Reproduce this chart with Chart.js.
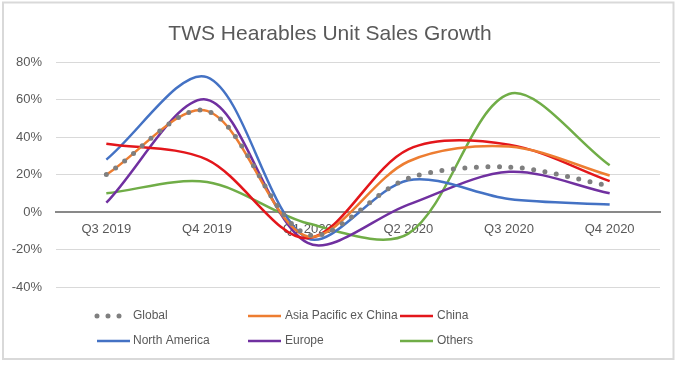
<!DOCTYPE html>
<html>
<head>
<meta charset="utf-8">
<script src="https://cdn.jsdelivr.net/npm/chart.js@4/dist/chart.umd.min.js"></script>
<style>
  html, body { margin: 0; padding: 0; background: #fff; }
  #wrap { width: 680px; height: 365px; position: relative; }
</style>
</head>
<body>
<div id="wrap"><canvas id="c" width="680" height="365"></canvas></div>
<script>
const categories = ['Q3 2019', 'Q4 2019', 'Q1 2020', 'Q2 2020', 'Q3 2020', 'Q4 2020'];
const seriesNames = ['Global', 'Asia Pacific ex China', 'China', 'North America', 'Europe', 'Others'];
const globalVals   = [20, 54, -12, 18, 24, 14];
const apacVals     = [20, 54, -13, 27, 35, 19.5];
const chinaVals    = [36.5, 28, -14, 33.5, 36, 16.5];
const naVals       = [28, 72, -14, 17, 7, 4];
const europeVals   = [5, 60, -16.5, 4, 21.5, 10];
const othersVals   = [10, 16, -6, -11.5, 63, 25];
const yTicks = [-40, -20, 0, 20, 40, 60, 80];

const colors = ['#7F7F7F', '#ED7D31', '#E3161B', '#4472C4', '#7030A0', '#70AD47'];
const values = [globalVals, apacVals, chinaVals, naVals, europeVals, othersVals];

const FONT = '"Liberation Sans", Arial, sans-serif';
const TXT = '#595959';

const datasets = values.map((v, i) => {
  const d = {
    label: seriesNames[i],
    data: v,
    borderColor: colors[i],
    backgroundColor: colors[i],
    borderWidth: 2.5,
    pointRadius: 0,
    pointHoverRadius: 0,
    tension: 0.32,
    fill: false
  };
  if (i === 0) {
    d.borderWidth = 5;
    d.borderDash = [0, 11.5];
    d.borderCapStyle = 'round';
  }
  return d;
});

const frame = {
  id: 'frame',
  beforeDraw(chart) {
    const ctx = chart.ctx;
    ctx.save();
    ctx.fillStyle = '#fff';
    ctx.fillRect(0, 0, chart.width, chart.height);
    ctx.strokeStyle = '#D9D9D9';
    ctx.lineWidth = 2;
    ctx.strokeRect(3, 2.5, 670.5, 356.5);
    ctx.restore();
  }
};

const customLegend = {
  id: 'customLegend',
  afterDraw(chart) {
    const ctx = chart.ctx;
    const symX = [97, 248, 400];
    const txtX = [133, 285, 437];
    const rowY = [316, 341];
    ctx.save();
    ctx.font = '12px ' + FONT;
    ctx.textBaseline = 'middle';
    ctx.textAlign = 'left';
    chart.data.datasets.forEach((ds, i) => {
      const col = i % 3, row = Math.floor(i / 3);
      const y = rowY[row];
      ctx.strokeStyle = ds.borderColor;
      if (i === 0) {
        ctx.lineWidth = 5;
        ctx.lineCap = 'round';
        ctx.setLineDash([0, 11]);
        ctx.beginPath();
        ctx.moveTo(symX[col], y);
        ctx.lineTo(symX[col] + 22.5, y);
        ctx.stroke();
        ctx.setLineDash([]);
      } else {
        ctx.lineWidth = 2.5;
        ctx.lineCap = 'butt';
        ctx.beginPath();
        ctx.moveTo(symX[col], y);
        ctx.lineTo(symX[col] + 33, y);
        ctx.stroke();
      }
      ctx.fillStyle = TXT;
      ctx.fillText(ds.label, txtX[col], y);
    });
    ctx.restore();
  }
};

new Chart(document.getElementById('c'), {
  type: 'line',
  data: { labels: categories, datasets },
  options: {
    responsive: false,
    animation: false,
    events: [],
    layout: { padding: { left: 0, right: 20, top: 0, bottom: 78 } },
    plugins: {
      legend: { display: false },
      tooltip: { enabled: false },
      title: {
        display: true,
        text: 'TWS Hearables Unit Sales Growth',
        color: TXT,
        font: { family: FONT, size: 21, weight: 'normal' },
        padding: { top: 22, bottom: 15 }
      }
    },
    scales: {
      y: {
        min: -40, max: 80,
        afterBuildTicks: (s) => { s.ticks = yTicks.map(v => ({ value: v })); },
        afterFit: (s) => { s.width = 56; },
        ticks: {
          color: TXT,
          font: { family: FONT, size: 13 },
          padding: 14,
          callback: (v) => v + '%'
        },
        grid: { color: '#D9D9D9', lineWidth: 1, drawTicks: false },
        border: { display: false }
      },
      x: {
        position: { y: 0 },
        offset: true,
        ticks: {
          color: TXT,
          font: { family: FONT, size: 13 },
          padding: 10,
          maxRotation: 0,
          autoSkip: false
        },
        grid: { display: false, drawTicks: false },
        border: { display: true, color: '#898989', width: 2 }
      }
    }
  },
  plugins: [frame, customLegend]
});
</script>
</body>
</html>
